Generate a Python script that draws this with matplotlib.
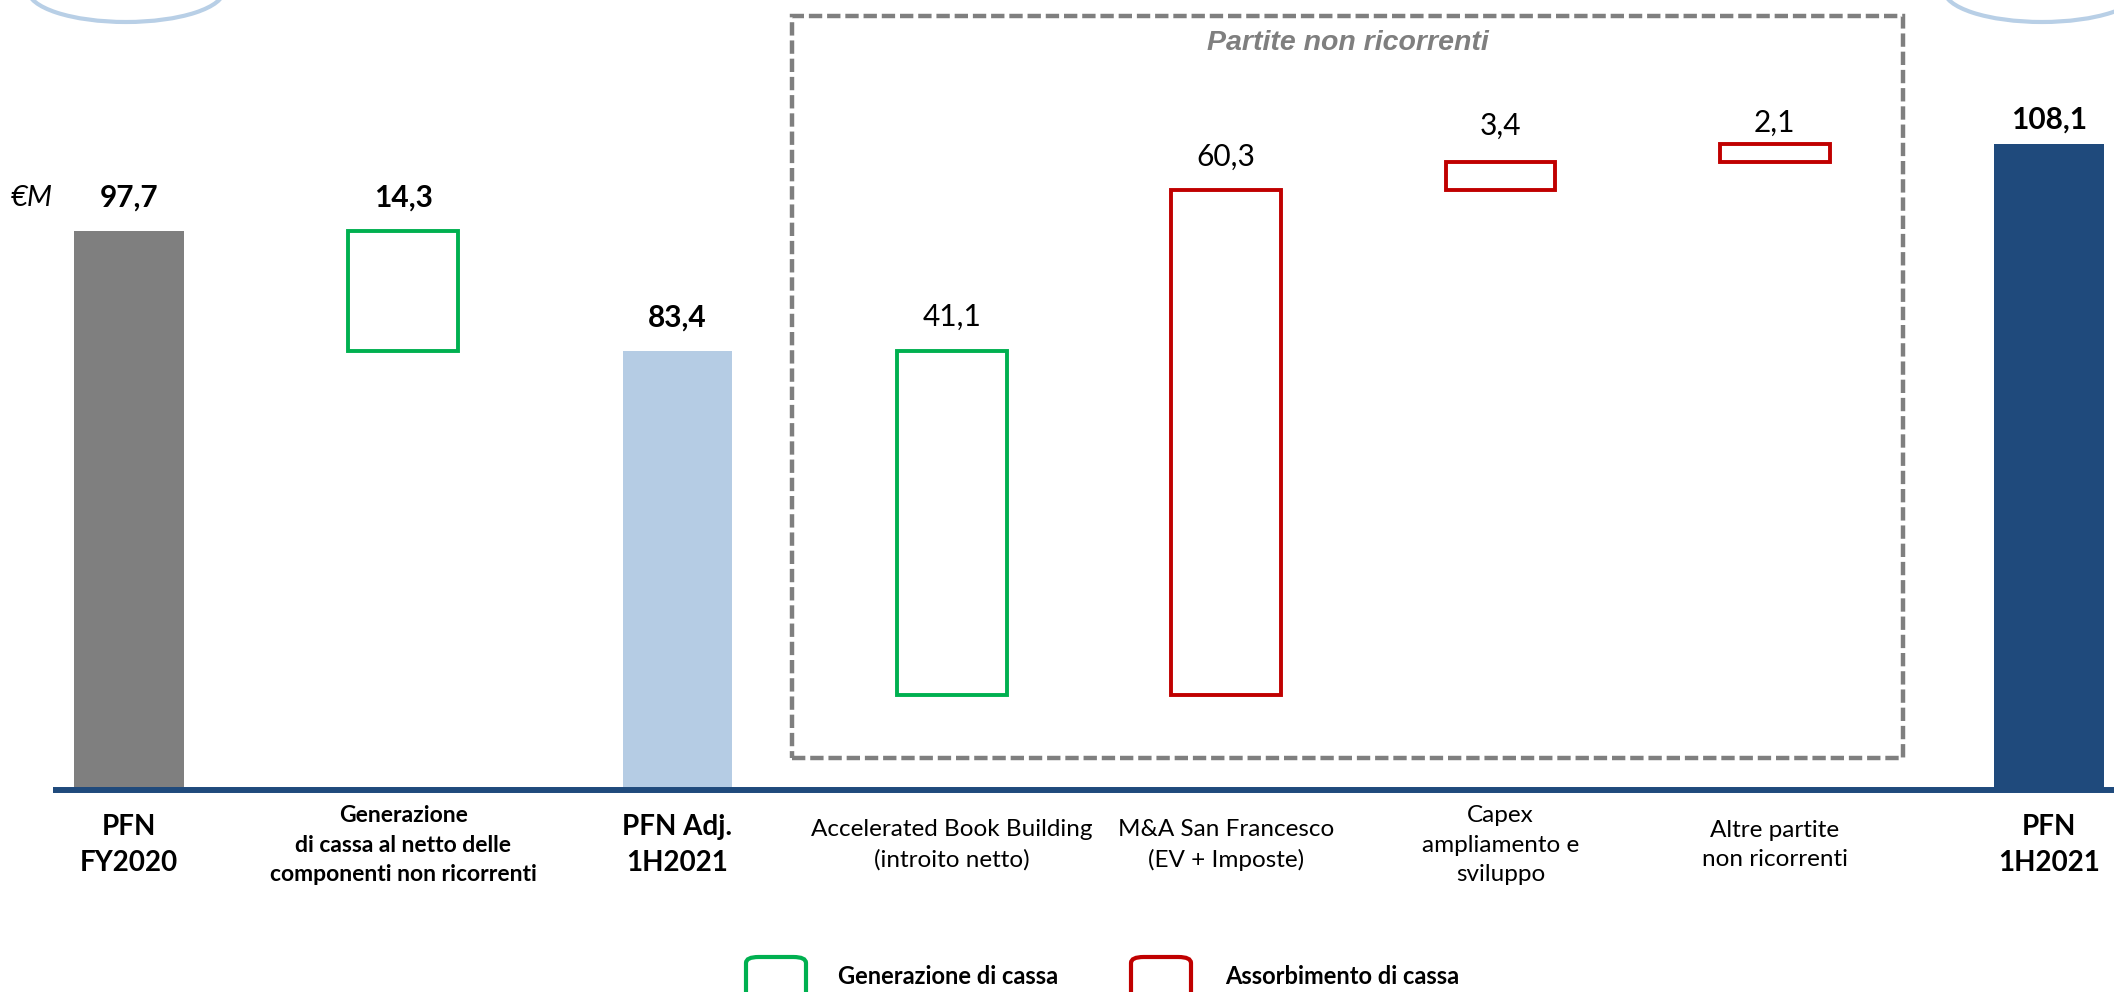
import matplotlib.pyplot as plt
from matplotlib.patches import Rectangle, Ellipse, FancyBboxPatch
import matplotlib.transforms as mtransforms

plt.rcParams['font.family'] = ['Lato', 'DejaVu Sans']

# データ (値は図から読み取り)
categories = ["PFN\nFY2020",
              "Generazione\ndi cassa al netto delle\ncomponenti non ricorrenti",
              "PFN Adj.\n1H2021",
              "Accelerated Book Building\n(introito netto)",
              "M&A San Francesco\n(EV + Imposte)",
              "Capex\nampliamento e\nsviluppo",
              "Altre partite\nnon ricorrenti",
              "PFN\n1H2021"]
values = [97.7, 14.3, 83.4, 41.1, 60.3, 3.4, 2.1, 108.1]
kinds = ["total", "gen", "total", "gen", "abs", "abs", "abs", "total"]
value_labels = ["97,7", "14,3", "83,4", "41,1", "60,3", "3,4", "2,1", "108,1"]
bold_items = [True, True, True, False, False, False, False, True]
legend_labels = ["Generazione di cassa", "Assorbimento di cassa"]
box_title = "Partite non ricorrenti"
unit_label = "€M"

# スタイル
W, H = 2114, 992
GRAY = '#7F7F7F'
LIGHT = '#B5CCE4'
NAVY = '#1F4A7C'
GREEN = '#00B050'
RED = '#C00000'
total_colors = {0: GRAY, 2: LIGHT, 7: NAVY}
label_offsets = [33, 33, 33, 34, 33, 36, 21, 24]  # px above bar top


def fx(px):
    return px / W


def fy(py):
    return 1 - py / H


# ウォーターフォールの計算
bottoms, tops = [], []
running = values[0]
for v, k in zip(values, kinds):
    if k == "total":
        bottoms.append(0)
        tops.append(v)
        running = v
    elif k == "gen":
        running -= v
        bottoms.append(running)
        tops.append(running + v)
    else:
        bottoms.append(running)
        running += v
        tops.append(running)

fig = plt.figure(figsize=(W / 100, H / 100), dpi=100)
ax = fig.add_axes([0, fy(790), 1, 790 / H])
ymin, ymax = 30.9, 125.3
ax.set_xlim(-0.470, 7.237)
ax.set_ylim(ymin, ymax)
ax.axis('off')

x = list(range(len(values)))
for i in x:
    if kinds[i] == "total":
        ax.bar(i, tops[i] - bottoms[i], bottom=bottoms[i], width=0.4,
               color=total_colors[i], zorder=2)
    else:
        ec = GREEN if kinds[i] == "gen" else RED
        ax.bar(i, tops[i] - bottoms[i], bottom=bottoms[i], width=0.4,
               fill=False, edgecolor=ec, linewidth=2.8, zorder=2)
    ax.annotate(value_labels[i], (i, tops[i]),
                xytext=(0, label_offsets[i] * 0.72), textcoords='offset points',
                ha='center', va='center', fontsize=21.5,
                fontweight='bold' if bold_items[i] else 'normal')

# 軸の線
ax.plot([-0.277, 7.4], [ymin, ymin], color=NAVY, lw=4.3,
        solid_capstyle='butt', clip_on=False, zorder=3)

# カテゴリラベル
trans = mtransforms.blended_transform_factory(ax.transData, fig.transFigure)
for i, lab in enumerate(categories):
    if bold_items[i] and kinds[i] == "total":
        ax.text(i, fy(845), lab, transform=trans, ha='center', va='center',
                fontsize=20, fontweight='bold', linespacing=1.45)
    else:
        ax.text(i, fy(845), lab, transform=trans, ha='center', va='center',
                fontsize=16.5 if bold_items[i] else 17.5,
                fontweight='bold' if bold_items[i] else 'normal',
                linespacing=1.5)

fig.text(fx(32), fy(198), unit_label, ha='center', va='center',
         fontsize=21, style='italic')

# 点線の枠
fig.patches.append(Rectangle((fx(792), fy(758)), fx(1903 - 792), (758 - 16) / H,
                             transform=fig.transFigure, fill=False,
                             edgecolor=GRAY, linewidth=3.2,
                             linestyle=(0, (3.0, 1.1))))
fig.text(fx(1348), fy(43), box_title, ha='center', va='center', fontsize=20.5,
         color=GRAY, fontweight='bold', style='italic',
         family=['Liberation Sans', 'DejaVu Sans'])

# 上部の楕円 (一部のみ表示)
for cx in [126, 2042]:
    fig.patches.append(Ellipse((fx(cx), fy(-10)), fx(196), 64 / H,
                               transform=fig.transFigure, fill=False,
                               edgecolor='#B8CFE6', linewidth=3))

# 凡例
for (x0, tx, col, lab) in [(744, 838, GREEN, legend_labels[0]),
                           (1129, 1225, RED, legend_labels[1])]:
    fig.patches.append(FancyBboxPatch((fx(x0 + 2), fy(1020)), fx(60), 63 / H,
                                      boxstyle="round,pad=0,rounding_size=0.006",
                                      transform=fig.transFigure, fill=False,
                                      edgecolor=col, linewidth=3))
    fig.text(fx(tx), fy(977), lab, ha='left', va='center', fontsize=17,
             fontweight='bold')

fig.savefig('out.png', dpi=100)
